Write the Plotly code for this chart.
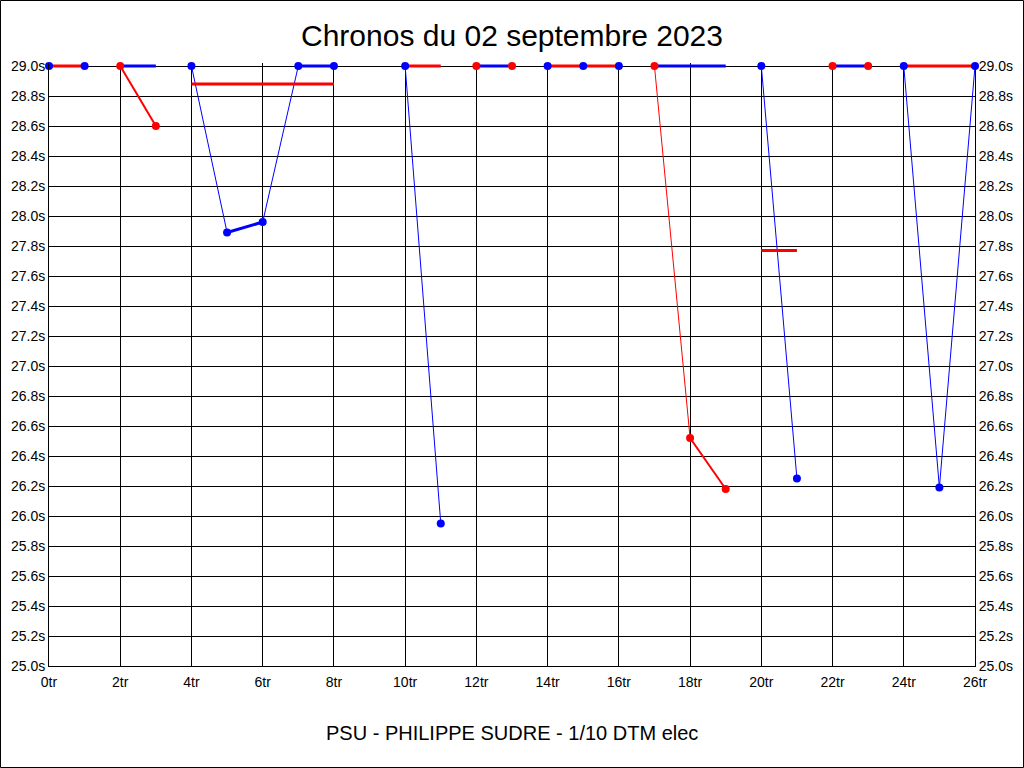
import plotly.graph_objects as go

# ---- data ----
title_text = "Chronos du 02 septembre 2023"
footer_text = "PSU - PHILIPPE SUDRE - 1/10 DTM elec"

blue_line_x = [2, 3, None, 4, 5, 6, 7, 8, None, 10, 11, None, 12, 13, None,
               17, 18, 19, None, 20, 21, None, 22, 23, None, 24, 25, 26]
blue_line_y = [29.0, 29.0, None, 29.0, 27.89, 27.96, 29.0, 29.0, None, 29.0, 25.95, None,
               29.0, 29.0, None, 29.0, 29.0, 29.0, None, 29.0, 26.25, None, 29.0, 29.0, None,
               29.0, 26.19, 29.0]

blue_mark_x = [0, 1, 4, 5, 6, 7, 8, 10, 11, 14, 15, 16, 20, 21, 24, 25, 26]
blue_mark_y = [29.0, 29.0, 29.0, 27.89, 27.96, 29.0, 29.0, 29.0, 25.95, 29.0, 29.0, 29.0,
               29.0, 26.25, 29.0, 26.19, 29.0]

red_line_x = [0, 1, None, 2, 3, None, 4, 8, None, 10, 11, None, 14, 15, 16, None,
              17, 18, 19, None, 20, 21, None, 24, 26]
red_line_y = [29.0, 29.0, None, 29.0, 28.6, None, 28.88, 28.88, None, 29.0, 29.0, None,
              29.0, 29.0, 29.0, None, 29.0, 26.52, 26.18, None, 27.77, 27.77, None, 29.0, 29.0]

red_mark_x = [2, 3, 12, 13, 17, 18, 19, 22, 23]
red_mark_y = [29.0, 28.6, 29.0, 29.0, 29.0, 26.52, 26.18, 29.0, 29.0]

x_ticks = list(range(0, 27, 2))
x_labels = [f"{v}tr" for v in x_ticks]
y_ticks = [round(25.0 + 0.2 * i, 1) for i in range(21)]
y_labels = [f"{v:.1f}s" for v in y_ticks]

# ---- styling ----
BLUE = "#0000FF"
RED = "#FF0000"
W, H = 1024, 768
L, R = 49, 49
TOP_PX, BOT_PX = 66, 666        # pixel rows of 29.0 and 25.0
EXTRA = 3                       # px of head room above 29.0 so thick lines are not clipped
px_per_x = (W - L - R) / 26.0
px_per_y = (BOT_PX - TOP_PX) / 4.0
y_max = 29.0 + EXTRA / px_per_y
T = TOP_PX - EXTRA
B = H - BOT_PX
plot_w = W - L - R
plot_h = H - T - B

fig = go.Figure()


def add_segments(xs, ys, color):
    for i in range(len(xs) - 1):
        x0, x1, y0, y1 = xs[i], xs[i + 1], ys[i], ys[i + 1]
        if None in (x0, x1, y0, y1):
            continue
        slope = abs((y1 - y0) * px_per_y) / max(abs((x1 - x0) * px_per_x), 1e-9)
        width = 3 if slope < 1 else (2 if slope < 2 else 1)
        fig.add_trace(go.Scatter(x=[x0, x1], y=[y0, y1], mode="lines",
                                 line=dict(color=color, width=width),
                                 cliponaxis=False, showlegend=False, hoverinfo="skip"))


add_segments(blue_line_x, blue_line_y, BLUE)
add_segments(red_line_x, red_line_y, RED)

fig.add_trace(go.Scatter(x=blue_mark_x, y=blue_mark_y, mode="markers",
                         marker=dict(color=BLUE, size=8, line=dict(width=0)),
                         cliponaxis=False, showlegend=False))
fig.add_trace(go.Scatter(x=red_mark_x, y=red_mark_y, mode="markers",
                         marker=dict(color=RED, size=8, line=dict(width=0)),
                         cliponaxis=False, showlegend=False))
# invisible trace for right axis
fig.add_trace(go.Scatter(x=[0], y=[25.0], yaxis="y2", mode="markers",
                         marker=dict(opacity=0), showlegend=False, hoverinfo="skip"))

tick_font = dict(family="Liberation Sans, Arial, sans-serif", size=14, color="black")

fig.update_layout(
    width=W, height=H,
    margin=dict(l=L, r=R, t=T, b=B, pad=0, autoexpand=False),
    paper_bgcolor="white", plot_bgcolor="white",
    showlegend=False,
    title=dict(text=title_text, x=0.5, xanchor="center", y=1 - 35 / H, yanchor="middle",
               font=dict(family="Liberation Sans, Arial, sans-serif", size=30, color="black")),
    xaxis=dict(range=[0, 26], tickmode="array", tickvals=x_ticks, ticktext=x_labels,
               showgrid=True, gridcolor="black", gridwidth=1, zeroline=False,
               showline=True, linecolor="black", linewidth=1, ticks="outside",
               ticklen=3, tickcolor="rgba(0,0,0,0)",
               tickfont=tick_font, fixedrange=True, automargin=False),
    yaxis=dict(range=[25, y_max], tickmode="array", tickvals=y_ticks, ticktext=y_labels,
               showgrid=True, gridcolor="black", gridwidth=1, zeroline=False,
               showline=True, linecolor="black", linewidth=1, ticks="",
               tickfont=tick_font, fixedrange=True, automargin=False),
    yaxis2=dict(range=[25, y_max], tickmode="array", tickvals=y_ticks, ticktext=y_labels,
                overlaying="y", side="right", showgrid=False, zeroline=False,
                showline=True, linecolor="black", linewidth=1, ticks="",
                tickfont=tick_font, fixedrange=True, automargin=False),
    annotations=[dict(text=footer_text, xref="paper", yref="paper", x=0.5,
                      y=-(733 - BOT_PX) / plot_h, xanchor="center", yanchor="middle",
                      showarrow=False,
                      font=dict(family="Liberation Sans, Arial, sans-serif", size=20, color="black"))],
    shapes=[dict(type="rect", xref="paper", yref="paper",
                 x0=-(L - 0.5) / plot_w, x1=1 + (R - 0.5) / plot_w,
                 y0=-(B - 0.5) / plot_h, y1=1 + (T - 0.5) / plot_h,
                 line=dict(color="black", width=1), fillcolor="rgba(0,0,0,0)")],
)

fig.write_html("out.html", config={"displayModeBar": False},
               post_script="document.body.style.margin='0';")
